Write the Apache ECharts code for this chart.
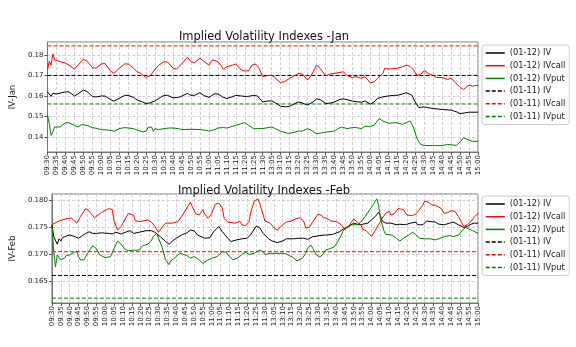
<!DOCTYPE html>
<html><head><meta charset="utf-8">
<script src="https://cdn.jsdelivr.net/npm/echarts@6/dist/echarts.min.js"></script>
<style>html,body{margin:0;padding:0;background:#fff}#c{width:576px;height:347px}</style>
</head><body><div id="c"></div>
<script>
// ---- data ----
const seriesNames = ['(01-12) IV', '(01-12) IVcall', '(01-12) IVput', '(01-11) IV', '(01-11) IVcall', '(01-11) IVput'];
const titles = ['Implied Volatility Indexes -Jan', 'Implied Volatility Indexes -Feb'];
const yNames = ['IV-Jan', 'IV-Feb'];

const janIV = [['09:30',0.1620],['09:32',0.1598],['09:33',0.1613],['09:35',0.1610],['09:40',0.1620],['09:42',0.1620],['09:45',0.1600],['09:47',0.1610],['09:50',0.1629],['09:52',0.1622],['09:55',0.1598],['09:57',0.1595],['10:00',0.1600],['10:02',0.1600],['10:05',0.1583],['10:07',0.1575],['10:10',0.1588],['10:13',0.1603],['10:15',0.1603],['10:18',0.1593],['10:20',0.1580],['10:23',0.1571],['10:25',0.1563],['10:27',0.1566],['10:30',0.1576],['10:33',0.1593],['10:35',0.1603],['10:37',0.1603],['10:40',0.1591],['10:43',0.1593],['10:45',0.1600],['10:48',0.1612],['10:50',0.1603],['10:52',0.1603],['10:55',0.1616],['10:57',0.1603],['11:00',0.1593],['11:03',0.1610],['11:05',0.1610],['11:08',0.1593],['11:10',0.1588],['11:13',0.1596],['11:15',0.1603],['11:18',0.1600],['11:20',0.1598],['11:22',0.1598],['11:25',0.1603],['11:27',0.1600],['11:30',0.1571],['13:02',0.1575],['13:05',0.1576],['13:07',0.1567],['13:10',0.1550],['13:13',0.1547],['13:15',0.1550],['13:18',0.1563],['13:20',0.1571],['13:22',0.1566],['13:25',0.1555],['13:28',0.1571],['13:30',0.1586],['13:32',0.1583],['13:35',0.1563],['13:38',0.1566],['13:40',0.1571],['13:43',0.1583],['13:45',0.1586],['13:48',0.1580],['13:50',0.1575],['13:53',0.1571],['13:55',0.1570],['13:57',0.1576],['14:00',0.1560],['14:02',0.1571],['14:04',0.1588],['14:05',0.1593],['14:07',0.1596],['14:10',0.1600],['14:13',0.1603],['14:15',0.1603],['14:18',0.1610],['14:20',0.1616],['14:21',0.1619],['14:23',0.1605],['14:25',0.1571],['14:27',0.1543],['14:30',0.1547],['14:32',0.1543],['14:35',0.1539],['14:40',0.1534],['14:45',0.1531],['14:48',0.1523],['14:50',0.1514],['14:53',0.1518],['14:55',0.1521],['15:00',0.1521]];

const janCall = [['09:30',0.1727],['09:31',0.1770],['09:32',0.1750],['09:33',0.1805],['09:34',0.1775],['09:35',0.1767],['09:37',0.1768],['09:40',0.1760],['09:42',0.1750],['09:45',0.1731],['09:47',0.1750],['09:50',0.1779],['09:52',0.1770],['09:55',0.1738],['09:57',0.1735],['10:00',0.1756],['10:02',0.1759],['10:05',0.1723],['10:07',0.1710],['10:10',0.1735],['10:13',0.1756],['10:15',0.1756],['10:18',0.1735],['10:20',0.1718],['10:22',0.1710],['10:25',0.1690],['10:27',0.1697],['10:30',0.1730],['10:32',0.1750],['10:35',0.1767],['10:37',0.1765],['10:40',0.1735],['10:42',0.1731],['10:45',0.1759],['10:48',0.1789],['10:50',0.1767],['10:52',0.1762],['10:55',0.1784],['10:57',0.1770],['11:00',0.1750],['11:02',0.1776],['11:05',0.1767],['11:07',0.1746],['11:08',0.1730],['11:10',0.1743],['11:13',0.1750],['11:15',0.1756],['11:17',0.1735],['11:19',0.1722],['11:20',0.1727],['11:22',0.1722],['11:24',0.1750],['11:26',0.1756],['11:28',0.1735],['11:30',0.1694],['13:01',0.1690],['13:03',0.1700],['13:05',0.1700],['13:07',0.1690],['13:08',0.1678],['13:10',0.1666],['13:12',0.1669],['13:15',0.1686],['13:17',0.1695],['13:20',0.1710],['13:22',0.1707],['13:25',0.1678],['13:27',0.1700],['13:30',0.1750],['13:32',0.1735],['13:35',0.1697],['13:37',0.1707],['13:40',0.1710],['13:45',0.1718],['13:47',0.1700],['13:50',0.1690],['13:52',0.1694],['13:55',0.1686],['13:57',0.1694],['14:00',0.1664],['14:02',0.1669],['14:04',0.1686],['14:05',0.1683],['14:07',0.1710],['14:08',0.1735],['14:10',0.1731],['14:15',0.1735],['14:18',0.1743],['14:20',0.1750],['14:22',0.1745],['14:24',0.1727],['14:26',0.1700],['14:28',0.1705],['14:30',0.1723],['14:33',0.1707],['14:35',0.1700],['14:37',0.1690],['14:40',0.1690],['14:43',0.1680],['14:45',0.1686],['14:47',0.1669],['14:50',0.1642],['14:52',0.1632],['14:55',0.1653],['14:57',0.1648],['15:00',0.1653]];

const janPut = [['09:30',0.1506],['09:31',0.1465],['09:32',0.1408],['09:33',0.1424],['09:34',0.1449],['09:35',0.1452],['09:37',0.1449],['09:40',0.1469],['09:42',0.1469],['09:43',0.1478],['09:45',0.1457],['09:47',0.1449],['09:49',0.1460],['09:50',0.1460],['09:52',0.1457],['09:55',0.1446],['09:58',0.1441],['10:00',0.1436],['10:05',0.1433],['10:07',0.1428],['10:10',0.1441],['10:13',0.1446],['10:15',0.1444],['10:18',0.1441],['10:20',0.1433],['10:23',0.1426],['10:25',0.1428],['10:26',0.1446],['10:27',0.1443],['10:28',0.1449],['10:29',0.1428],['10:30',0.1441],['10:32',0.1436],['10:35',0.1441],['10:38',0.1444],['10:40',0.1444],['10:43',0.1441],['10:45',0.1436],['10:50',0.1438],['10:55',0.1436],['10:58',0.1433],['11:00',0.1429],['11:03',0.1436],['11:05',0.1444],['11:08',0.1446],['11:10',0.1444],['11:13',0.1452],['11:15',0.1457],['11:18',0.1465],['11:20',0.1470],['11:22',0.1457],['11:25',0.1441],['11:27',0.1441],['11:30',0.1441],['13:03',0.1446],['13:05',0.1449],['13:07',0.1441],['13:10',0.1428],['13:13',0.1420],['13:15',0.1418],['13:18',0.1424],['13:20',0.1429],['13:22',0.1429],['13:25',0.1441],['13:27',0.1433],['13:30',0.1416],['13:33',0.1420],['13:35',0.1424],['13:40',0.1429],['13:42',0.1441],['13:44',0.1449],['13:45',0.1446],['13:47',0.1441],['13:50',0.1446],['13:52',0.1446],['13:55',0.1441],['13:57',0.1452],['14:00',0.1452],['14:02',0.1457],['14:05',0.1490],['14:07',0.1478],['14:10',0.1467],['14:13',0.1469],['14:15',0.1469],['14:18',0.1462],['14:20',0.1470],['14:22',0.1478],['14:24',0.1449],['14:26',0.1392],['14:28',0.1364],['14:30',0.1359],['14:35',0.1358],['14:40',0.1358],['14:43',0.1364],['14:45',0.1362],['14:48',0.1359],['14:50',0.1376],['14:52',0.1397],['14:55',0.1384],['14:57',0.1379],['15:00',0.1379]];

const janPrev = [0.1700, 0.1844, 0.1561]; // (01-11) IV, IVcall, IVput

const febIV = [['09:30',0.1754],['09:31',0.1732],['09:33',0.1718],['09:34',0.1728],['09:35',0.1724],['09:36',0.1730],['09:38',0.1733],['09:40',0.1735],['09:43',0.1732],['09:45',0.1729],['09:48',0.1736],['09:51',0.1741],['09:53',0.1738],['09:55',0.1738],['09:58',0.1739],['10:02',0.1738],['10:04',0.1737],['10:06',0.1740],['10:09',0.1737],['10:12',0.1741],['10:14',0.1743],['10:16',0.1738],['10:19',0.1740],['10:23',0.1743],['10:26',0.1743],['10:28',0.1740],['10:31',0.1732],['10:34',0.1723],['10:36',0.1718],['10:38',0.1724],['10:40',0.1729],['10:43',0.1735],['10:46',0.1739],['10:48',0.1744],['10:50',0.1743],['10:52',0.1735],['10:56',0.1729],['10:59',0.1730],['11:01',0.1741],['11:04',0.1751],['11:06',0.1741],['11:09',0.1729],['11:11',0.1723],['11:14',0.1726],['11:17',0.1728],['11:20',0.1729],['11:22',0.1736],['11:25',0.1751],['11:27',0.1749],['11:29',0.1738],['13:02',0.1728],['13:04',0.1724],['13:07',0.1721],['13:10',0.1724],['13:12',0.1728],['13:16',0.1728],['13:19',0.1729],['13:22',0.1729],['13:24',0.1727],['13:27',0.1732],['13:31',0.1734],['13:34',0.1735],['13:38',0.1736],['13:42',0.1741],['13:44',0.1746],['13:47',0.1751],['13:50',0.1757],['13:53',0.1754],['13:55',0.1755],['13:58',0.1757],['14:00',0.1763],['14:02',0.1769],['14:04',0.1777],['14:05',0.1771],['14:06',0.1761],['14:08',0.1757],['14:11',0.1757],['14:14',0.1754],['14:16',0.1755],['14:19',0.1754],['14:22',0.1757],['14:25',0.1759],['14:26',0.1754],['14:29',0.1754],['14:31',0.1761],['14:33',0.1760],['14:36',0.1759],['14:38',0.1755],['14:41',0.1754],['14:44',0.1757],['14:46',0.1759],['14:49',0.1754],['14:52',0.1749],['14:54',0.1751],['14:56',0.1755],['14:58',0.1757],['15:00',0.1757]];

const febCall = [['09:30',0.1754],['09:34',0.1761],['09:39',0.1766],['09:41',0.1766],['09:44',0.1757],['09:46',0.1769],['09:49',0.1784],['09:51',0.1779],['09:54',0.1767],['09:55',0.1767],['09:58',0.1777],['10:02',0.1784],['10:04',0.1782],['10:05',0.1760],['10:07',0.1744],['10:09',0.1751],['10:13',0.1775],['10:16',0.1772],['10:17',0.1761],['10:20',0.1760],['10:24',0.1763],['10:26',0.1759],['10:28',0.1751],['10:30',0.1740],['10:32',0.1749],['10:34',0.1757],['10:38',0.1757],['10:41',0.1760],['10:43',0.1769],['10:46',0.1785],['10:48',0.1796],['10:49',0.1788],['10:51',0.1774],['10:53',0.1772],['10:55',0.1782],['10:56',0.1774],['10:58',0.1766],['11:00',0.1775],['11:02',0.1792],['11:04',0.1794],['11:06',0.1785],['11:07',0.1766],['11:09',0.1759],['11:13',0.1757],['11:16',0.1760],['11:17',0.1754],['11:18',0.1757],['11:19',0.1752],['11:21',0.1760],['11:22',0.1777],['11:24',0.1798],['11:26',0.1802],['11:27',0.1794],['11:29',0.1772],['11:30',0.1761],['13:03',0.1757],['13:05',0.1749],['13:07',0.1744],['13:08',0.1748],['13:10',0.1754],['13:12',0.1759],['13:15',0.1761],['13:18',0.1766],['13:20',0.1767],['13:22',0.1759],['13:23',0.1748],['13:25',0.1749],['13:27',0.1760],['13:30',0.1774],['13:32',0.1771],['13:33',0.1767],['13:35',0.1766],['13:37',0.1761],['13:40',0.1760],['13:41',0.1759],['13:43',0.1754],['13:45',0.1746],['13:47',0.1751],['13:49',0.1760],['13:50',0.1765],['13:52',0.1759],['13:54',0.1754],['13:55',0.1746],['13:57',0.1743],['13:59',0.1736],['14:00',0.1732],['14:02',0.1743],['14:04',0.1754],['14:06',0.1766],['14:08',0.1775],['14:10',0.1779],['14:11',0.1772],['14:13',0.1775],['14:15',0.1784],['14:16',0.1786],['14:18',0.1782],['14:20',0.1772],['14:23',0.1771],['14:25',0.1774],['14:27',0.1782],['14:29',0.1791],['14:30',0.1798],['14:32',0.1796],['14:34',0.1791],['14:36',0.1790],['14:37',0.1791],['14:39',0.1785],['14:41',0.1775],['14:43',0.1777],['14:45',0.1780],['14:47',0.1779],['14:49',0.1769],['14:51',0.1757],['14:52',0.1751],['14:54',0.1754],['14:56',0.1760],['14:58',0.1769],['15:00',0.1775]];

const febPut = [['09:30',0.1754],['09:31',0.1705],['09:32',0.1676],['09:33',0.1698],['09:34',0.1701],['09:35',0.1689],['09:37',0.1692],['09:38',0.1697],['09:40',0.1698],['09:42',0.1702],['09:44',0.1705],['09:45',0.1695],['09:46',0.1689],['09:48',0.1689],['09:50',0.1701],['09:53',0.1715],['09:55',0.1710],['09:57',0.1698],['10:00',0.1693],['10:03',0.1695],['10:05',0.1710],['10:07',0.1724],['10:09',0.1718],['10:11',0.1709],['10:13',0.1706],['10:16',0.1707],['10:19',0.1707],['10:21',0.1715],['10:24',0.1718],['10:26',0.1724],['10:27',0.1732],['10:29',0.1738],['10:30',0.1735],['10:32',0.1713],['10:34',0.1689],['10:36',0.1680],['10:37',0.1687],['10:40',0.1695],['10:42',0.1701],['10:44',0.1699],['10:46',0.1697],['10:48',0.1692],['10:50',0.1695],['10:53',0.1689],['10:55',0.1682],['10:57',0.1687],['11:00',0.1692],['11:01',0.1690],['11:03',0.1695],['11:06',0.1704],['11:08',0.1703],['11:10',0.1695],['11:12',0.1689],['11:15',0.1693],['11:17',0.1699],['11:19',0.1703],['11:21',0.1699],['11:22',0.1698],['11:24',0.1701],['11:27',0.1707],['11:29',0.1704],['11:30',0.1699],['13:03',0.1701],['13:07',0.1701],['13:11',0.1701],['13:13',0.1698],['13:16',0.1693],['13:18',0.1687],['13:21',0.1692],['13:23',0.1701],['13:24',0.1711],['13:26',0.1716],['13:27',0.1710],['13:29',0.1698],['13:31',0.1694],['13:33',0.1701],['13:34',0.1707],['13:36',0.1709],['13:39',0.1713],['13:41',0.1723],['13:43',0.1735],['13:44',0.1743],['13:46',0.1748],['13:49',0.1754],['13:52',0.1754],['13:54',0.1759],['13:57',0.1772],['13:59',0.1782],['14:01',0.1791],['14:02',0.1797],['14:03',0.1802],['14:04',0.1791],['14:05',0.1766],['14:07',0.1743],['14:08',0.1736],['14:10',0.1736],['14:12',0.1734],['14:14',0.1729],['14:16',0.1724],['14:18',0.1729],['14:21',0.1735],['14:23',0.1740],['14:25',0.1736],['14:27',0.1729],['14:30',0.1728],['14:33',0.1728],['14:36',0.1726],['14:38',0.1728],['14:41',0.1732],['14:44',0.1734],['14:46',0.1732],['14:49',0.1735],['14:51',0.1743],['14:53',0.1749],['14:55',0.1746],['14:57',0.1743],['15:00',0.1738]];

const febPrev = [0.1660, 0.1704, 0.1618]; // (01-11) IV, IVcall, IVput

// ---- categories: trading minutes ----
function pad(n){return (n<10?'0':'')+n;}
const minutes = [];
for (let t = 9*60+30; t <= 11*60+30; t++) minutes.push(pad(Math.floor(t/60))+':'+pad(t%60));
for (let t = 13*60+1; t <= 15*60; t++) minutes.push(pad(Math.floor(t/60))+':'+pad(t%60));

// ---- chart ----
const FF = 'DejaVu Sans';
const colors = ['#000000', '#ff0000', '#008000'];
const grids = [{left:40, top:42, width:438, height:110}, {left:40, top:194, width:438, height:109}];
const yRanges = [[0.1327, 0.1863, 5, 2], [0.1609, 0.1811, 4, 3]];

function xAxis(gi){
  return {type:'category', gridIndex:gi, data:minutes, boundaryGap:false,
    axisLine:{show:true, lineStyle:{color:'#777', width:1}},
    axisTick:{show:true, interval:4, length:3, lineStyle:{color:'#555'}},
    axisLabel:{interval:4, rotate:90, fontSize:7, color:'#222', margin:3, fontFamily:FF},
    splitLine:{show:true, interval:4, lineStyle:{color:'#d0d0d0', width:1, type:[3,2]}}};
}
function yAxis(gi){
  const r = yRanges[gi];
  return {type:'value', gridIndex:gi, min:r[0], max:r[1], splitNumber:r[2], scale:true,
    name:yNames[gi], nameLocation:'middle', nameGap:20,
    nameTextStyle:{fontSize:8.5, color:'#222', fontFamily:FF},
    axisLine:{show:true, lineStyle:{color:'#777', width:1}},
    axisTick:{show:true, length:3, lineStyle:{color:'#555'}},
    axisLabel:{fontSize:7, color:'#222', margin:4, fontFamily:FF, showMinLabel:false, showMaxLabel:false,
      formatter:v=>v.toFixed(r[3])},
    splitLine:{show:true, lineStyle:{color:'#d0d0d0', width:1, type:[3,2]}}};
}
function lines(gi, iv, call, put, prev){
  const out = [];
  [iv, call, put].forEach((d, k) => out.push({name:seriesNames[k], type:'line', xAxisIndex:gi, yAxisIndex:gi,
    data:d, symbol:'none', lineStyle:{color:colors[k], width:1}, itemStyle:{color:colors[k]}, z:3, silent:true}));
  prev.forEach((v, k) => out.push({name:seriesNames[k+3], type:'line', xAxisIndex:gi, yAxisIndex:gi,
    data:[[minutes[0], v], [minutes[minutes.length-1], v]], symbol:'none',
    lineStyle:{color:colors[k], width:1, type:[4,2]}, itemStyle:{color:colors[k]}, z:2, silent:true}));
  return out;
}
function legend(top){
  return {data:seriesNames, orient:'vertical', left:482, top:top, itemWidth:19, itemHeight:10, itemGap:2.7,
    padding:[3,4,3,3], borderColor:'#cccccc', borderWidth:1, borderRadius:3, backgroundColor:'#fff',
    itemStyle:{opacity:0}, lineStyle:{width:1.5},
    textStyle:{fontSize:8.3, color:'#222', fontFamily:FF, lineHeight:10}, selectedMode:false};
}

const chart = echarts.init(document.getElementById('c'), null, {renderer:'canvas'});
chart.setOption({
  animation:false,
  backgroundColor:'#ffffff',
  textStyle:{fontFamily:FF},
  title:[
    {text:titles[0], left:259, top:26, textAlign:'center', textStyle:{fontSize:11.5, fontWeight:'normal', color:'#111', fontFamily:FF}},
    {text:titles[1], left:259, top:180, textAlign:'center', textStyle:{fontSize:11.5, fontWeight:'normal', color:'#111', fontFamily:FF}}
  ],
  legend:[legend(45), legend(196)],
  grid:grids.map(g => Object.assign({show:true, borderColor:'#777', borderWidth:1, backgroundColor:'transparent'}, g)),
  xAxis:[xAxis(0), xAxis(1)],
  yAxis:[yAxis(0), yAxis(1)],
  series:[].concat(lines(0, janIV, janCall, janPut, janPrev), lines(1, febIV, febCall, febPut, febPrev))
});
</script></body></html>
